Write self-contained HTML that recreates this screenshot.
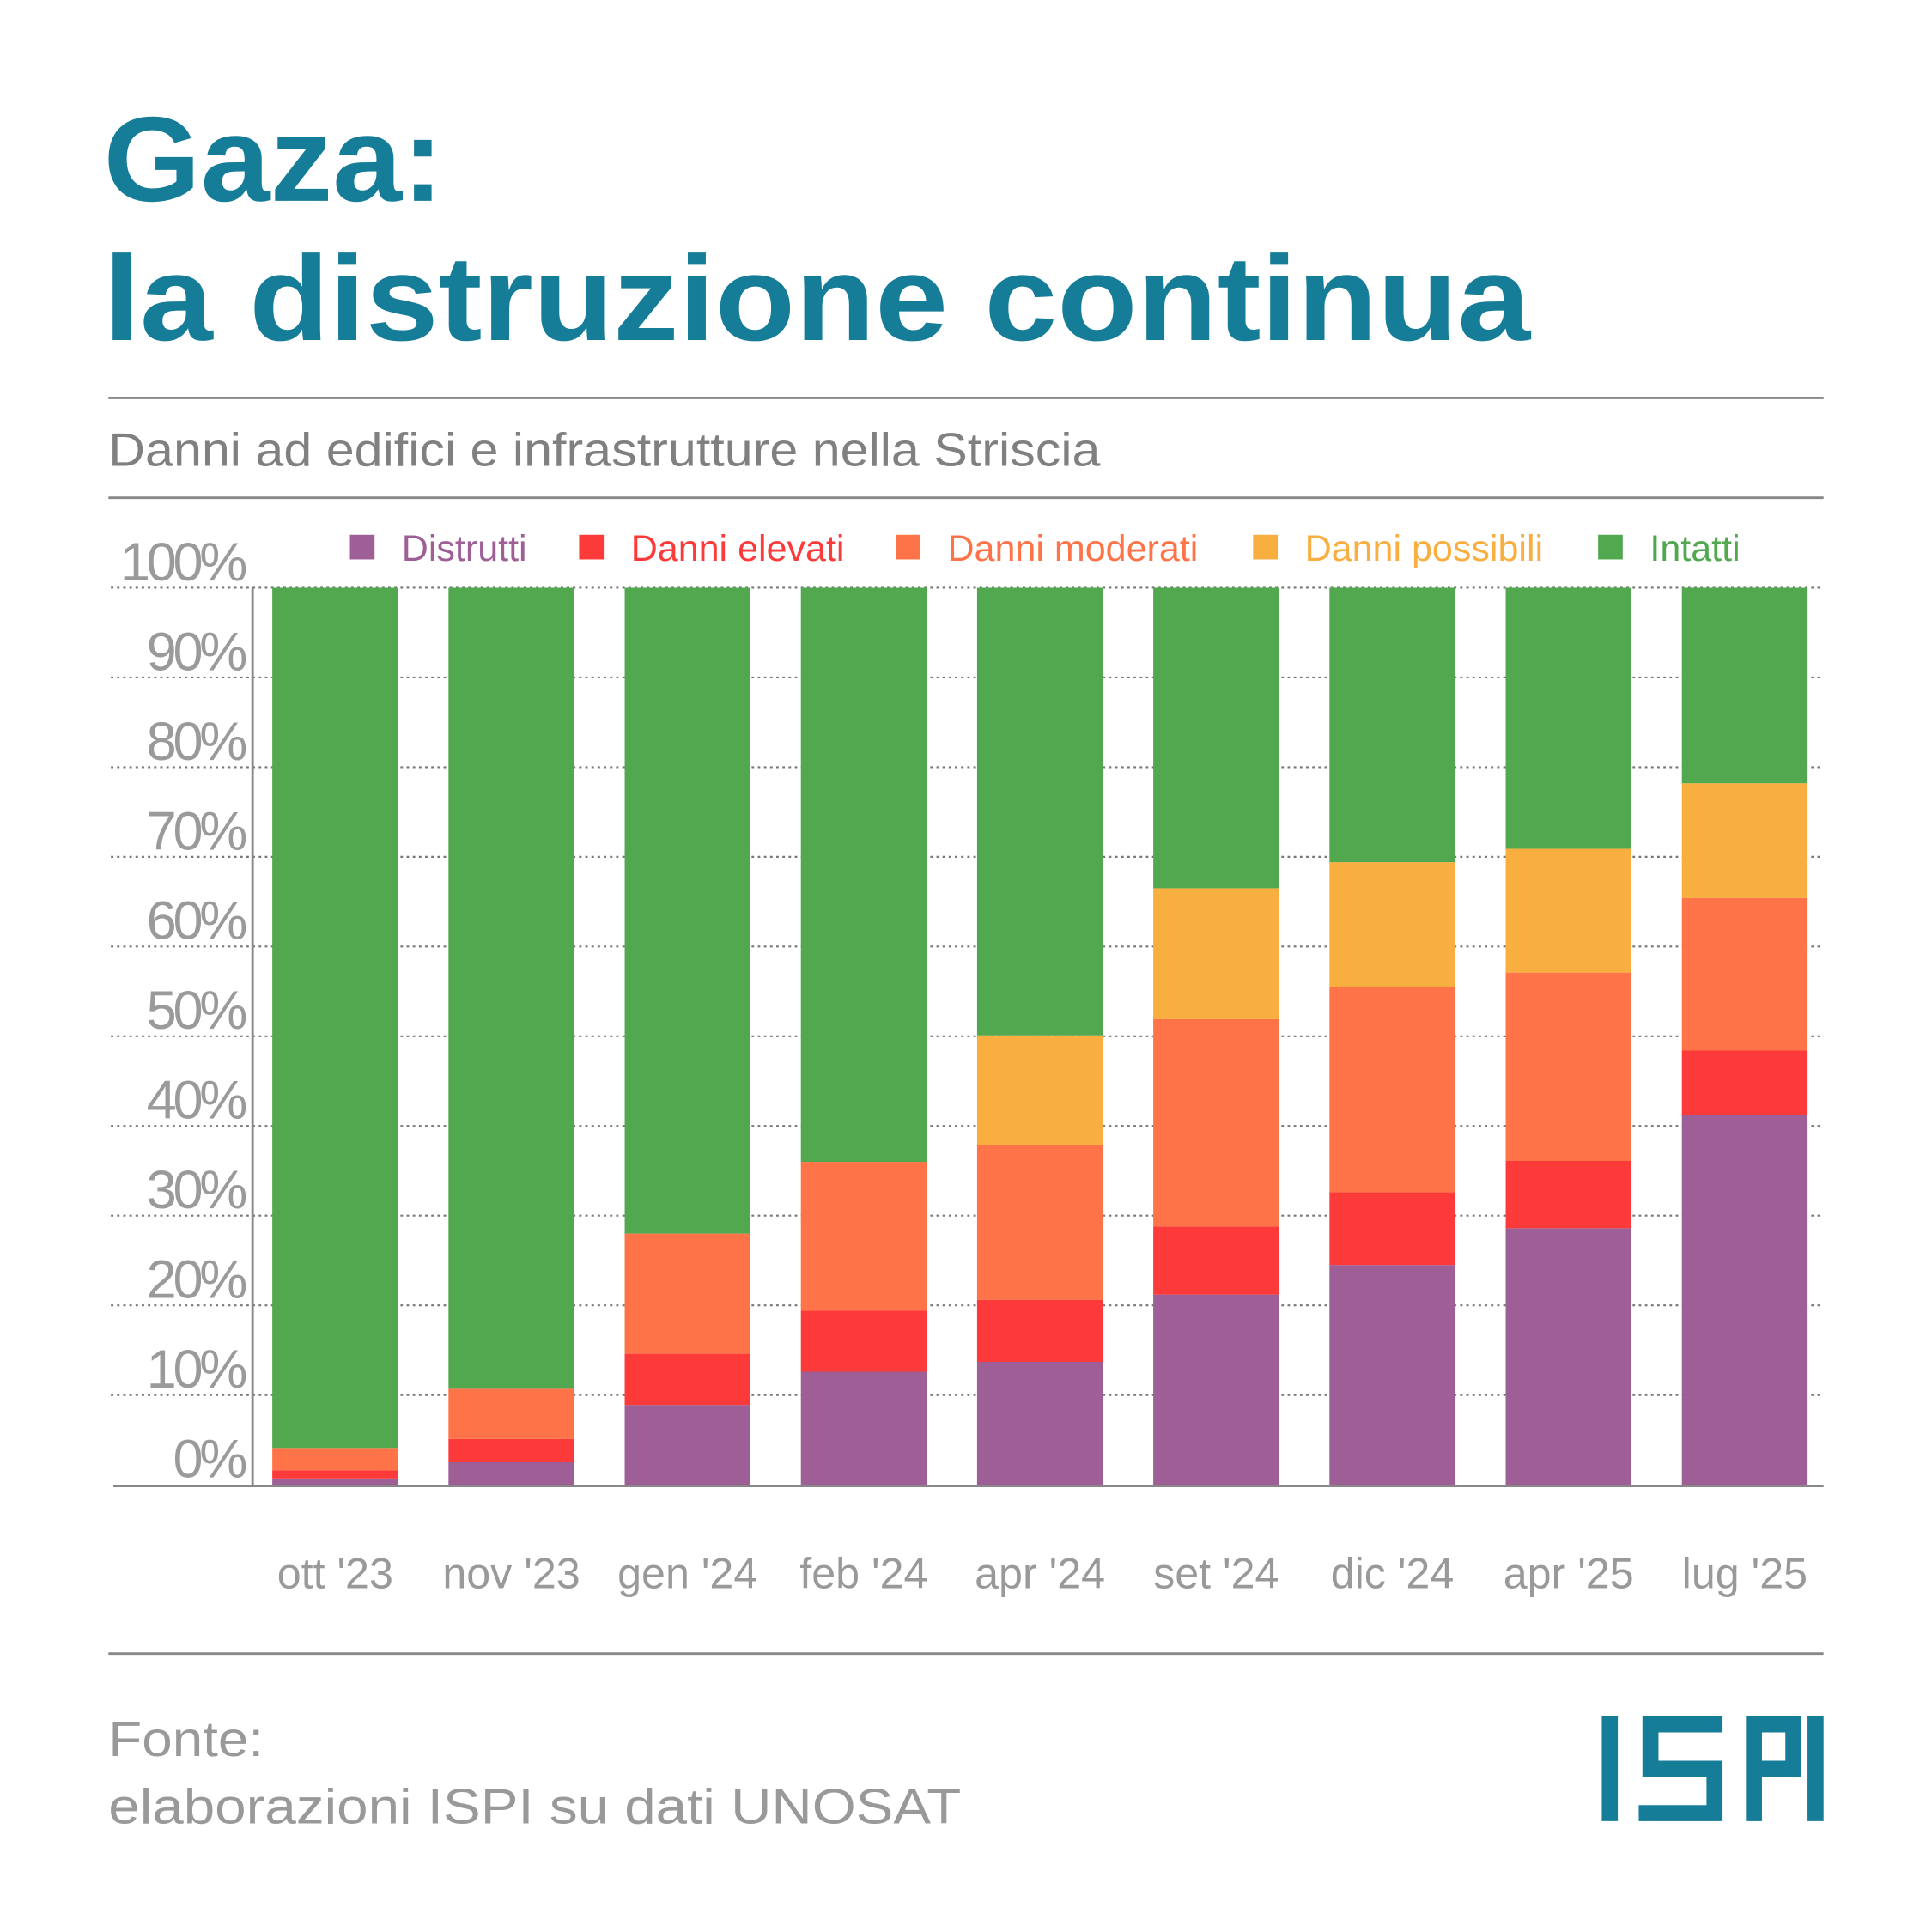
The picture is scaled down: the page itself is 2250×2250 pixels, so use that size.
<!DOCTYPE html>
<html><head><meta charset="utf-8"><style>
html,body{margin:0;padding:0;background:#fff;}
svg{display:block;}
</style></head><body>
<svg id="chart" width="2250" height="2250" viewBox="0 0 1568 1568" xmlns="http://www.w3.org/2000/svg" font-family="Liberation Sans, sans-serif">
<rect width="1568" height="1568" fill="#fff"/>
<text x="84" y="163" font-size="98" font-weight="bold" fill="#167d99" textLength="276" lengthAdjust="spacingAndGlyphs">Gaza:</text>
<text x="84" y="276" font-size="98" font-weight="bold" fill="#167d99" textLength="1158" lengthAdjust="spacingAndGlyphs">la distruzione continua</text>
<line x1="88" y1="323" x2="1480" y2="323" stroke="#888" stroke-width="2"/>
<text x="88" y="378" font-size="38" fill="#808080" textLength="805" lengthAdjust="spacingAndGlyphs">Danni ad edifici e infrastrutture nella Striscia</text>
<line x1="88" y1="404" x2="1480" y2="404" stroke="#888" stroke-width="2"/>
<g id="grid"></g>
<g id="bars"></g>
<g id="legend"></g>
<line x1="92" y1="1206" x2="1480" y2="1206" stroke="#888" stroke-width="2"/>
<line x1="205" y1="477" x2="205" y2="1206" stroke="#888" stroke-width="2"/>
<line x1="88" y1="1342" x2="1480" y2="1342" stroke="#888" stroke-width="2"/>
<text x="88" y="1425" font-size="40" fill="#999" textLength="126" lengthAdjust="spacingAndGlyphs">Fonte:</text>
<text x="88" y="1480" font-size="40" fill="#999" textLength="692" lengthAdjust="spacingAndGlyphs">elaborazioni ISPI su dati UNOSAT</text>
<g fill="#167d99">
<rect x="1300" y="1393" width="13" height="85"/>
<path d="M1398 1393 H1333 V1442 H1385 V1465 H1330 V1478 H1398 V1429 H1346 V1406 H1398 Z"/>
<path d="M1417 1393 H1462 V1442 H1430 V1478 H1417 Z M1430 1406 V1429 H1449 V1406 Z"/>
<rect x="1467" y="1393" width="13" height="85"/>
</g>
</svg>
<script>
const categories=["ott '23","nov '23","gen '24","feb '24","apr '24","set '24","dic '24","apr '25","lug '25"];
const distrutti=[0.7,2.5,8.9,12.6,13.7,21.2,24.5,28.6,41.2];
const danniElevati=[0.9,2.6,5.7,6.8,6.9,7.6,8.1,7.5,7.2];
const danniModerati=[2.5,5.6,13.4,16.6,17.3,23.1,22.9,21.0,17.0];
const danniPossibili=[0,0,0,0,12.2,14.6,13.9,13.8,12.8];
const yTicks=[0,10,20,30,40,50,60,70,80,90,100];
const yTickLabels=["0%","10%","20%","30%","40%","50%","60%","70%","80%","90%","100%"];
const seriesNames=["Distrutti","Danni elevati","Danni moderati","Danni possibili","Intatti"];
const colors=["#9e5f96","#fd3a3a","#fe7448","#f9ae40","#51a84f"];
const NS="http://www.w3.org/2000/svg";
const y0=1205,y100=477;
function yScale(v){return y0-(y0-y100)*v/100;}
function xScale(i){return 221+i*143;}
const bw=102;
function mk(tag,attrs,parent){const e=document.createElementNS(NS,tag);for(const k in attrs)e.setAttribute(k,attrs[k]);parent.appendChild(e);return e;}
const grid=document.getElementById('grid');
yTicks.forEach((t,i)=>{
  if(t>0){const l=mk('line',{x1:90,x2:1480,y1:yScale(t),y2:yScale(t),stroke:'#777','stroke-width':1.5,'stroke-dasharray':'2,3'},grid);
  
  }
  const tx=mk('text',{x:198,y:yScale(t)-6,'font-size':44,fill:'#9a9a9a','text-anchor':'end','letter-spacing':'-3'},grid);
  tx.textContent=yTickLabels[i];
  
  
});
const bars=document.getElementById('bars');
categories.forEach((c,i)=>{
  const vals=[distrutti[i],danniElevati[i],danniModerati[i],danniPossibili[i]];
  const sum=vals.reduce((a,b)=>a+b,0);
  vals.push(100-sum);
  let acc=0;
  vals.forEach((v,s)=>{
    if(v<=0)return;
    const r=mk('rect',{x:xScale(i),y:yScale(acc+v),width:bw,height:yScale(acc)-yScale(acc+v),fill:colors[s]},bars);
    
    
    acc+=v;
  });
  const t=mk('text',{x:xScale(i)+bw/2,y:1289,'font-size':35,fill:'#999','text-anchor':'middle'},bars);
  t.textContent=c;
  
  
});
const legend=document.getElementById('legend');
const lx=[284,470,727,1017,1297];
seriesNames.forEach((n,i)=>{
  const r=mk('rect',{x:lx[i],y:434,width:20,height:20,fill:colors[i]},legend);
  
  
  const t=mk('text',{x:lx[i]+42,y:455,'font-size':30,fill:colors[i]},legend);
  t.textContent=n;
  
  
});
</script>
</body></html>
